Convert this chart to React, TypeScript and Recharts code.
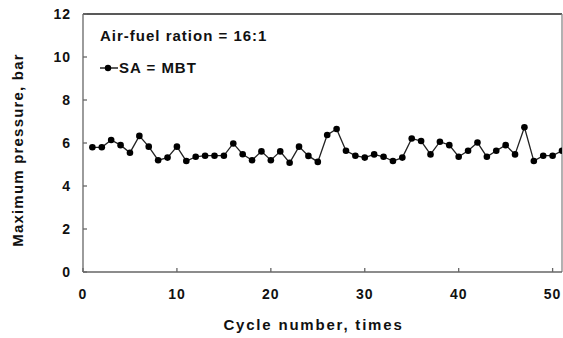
import { LineChart, Line, XAxis, YAxis, ReferenceLine, Legend } from 'recharts'

const cycles = [
  1, 2, 3, 4, 5, 6, 7, 8, 9, 10,
  11, 12, 13, 14, 15, 16, 17, 18, 19, 20,
  21, 22, 23, 24, 25, 26, 27, 28, 29, 30,
  31, 32, 33, 34, 35, 36, 37, 38, 39, 40,
  41, 42, 43, 44, 45, 46, 47, 48, 49, 50, 51
]

const maxPressure = [
  5.8, 5.8, 6.14, 5.9, 5.55, 6.33, 5.83, 5.2, 5.32, 5.83,
  5.16, 5.36, 5.41, 5.41, 5.41, 5.98, 5.48, 5.2, 5.61, 5.2,
  5.61, 5.08, 5.83, 5.4, 5.12, 6.37, 6.65, 5.64, 5.41, 5.32,
  5.47, 5.36, 5.16, 5.32, 6.21, 6.09, 5.47, 6.06, 5.9, 5.36,
  5.64, 6.02, 5.36, 5.64, 5.9, 5.47, 6.73, 5.16, 5.41, 5.41, 5.64
]

const xTicks = [0, 10, 20, 30, 40, 50]
const yTicks = [0, 2, 4, 6, 8, 10, 12]

const data = cycles.map((c, i) => ({ cycle: c, pressure: maxPressure[i] }))

const FONT = '"Liberation Sans", Arial, sans-serif'
const AXIS_COLOR = '#666'

const tickStyle = { fontFamily: FONT, fontSize: 14, fontWeight: 700, fill: '#111', letterSpacing: 1 }

function LegendBox() {
  return (
    <div style={{ fontFamily: FONT, fontWeight: 700, fontSize: 15, color: '#111', letterSpacing: 1 }}>
      <div style={{ lineHeight: '18px' }}>Air-fuel ration = 16:1</div>
      <div style={{ display: 'flex', alignItems: 'center', marginTop: 14, lineHeight: '18px' }}>
        <svg width={18} height={10} style={{ marginRight: 1 }}>
          <line x1={0} y1={5} x2={18} y2={5} stroke="#000" strokeWidth={1.3} />
          <circle cx={8} cy={5} r={3.2} fill="#000" />
        </svg>
        <span>SA = MBT</span>
      </div>
    </div>
  )
}

export default function App() {
  return (
    <div style={{ position: 'absolute', left: 0, top: 0, background: '#fff' }}>
      <LineChart width={563} height={338} data={data} margin={{ top: 14, right: 1, left: 0, bottom: 0 }}>
        <XAxis
          dataKey="cycle"
          type="number"
          domain={[0, 51]}
          ticks={xTicks}
          allowDataOverflow
          height={66}
          tickSize={-4}
          tickMargin={21}
          stroke={AXIS_COLOR}
          strokeWidth={1.3}
          tick={tickStyle}
          label={{
            value: 'Cycle number, times',
            position: 'insideBottom',
            offset: 8,
            dx: -9,
            style: { fontFamily: FONT, fontSize: 15, fontWeight: 700, fill: '#111', letterSpacing: 1.8 },
          }}
        />
        <YAxis
          type="number"
          domain={[0, 12]}
          ticks={yTicks}
          width={83}
          tickSize={-4}
          tickMargin={16}
          stroke={AXIS_COLOR}
          strokeWidth={1.3}
          tick={tickStyle}
          label={{
            content: ({ viewBox }: any) => {
              const cx = viewBox.x + 17
              const cy = viewBox.y + viewBox.height / 2 + 7
              return (
                <text
                  x={cx}
                  y={cy}
                  transform={`rotate(-90, ${cx}, ${cy})`}
                  textAnchor="middle"
                  dominantBaseline="central"
                  style={{ fontFamily: FONT, fontSize: 15, fontWeight: 700, fill: '#111', letterSpacing: 1.2 }}
                >
                  Maximum pressure, bar
                </text>
              )
            },
          }}
        />
        <ReferenceLine y={12} stroke="#222" strokeWidth={1.5} ifOverflow="extendDomain" />
        <ReferenceLine x={51} stroke="#888" strokeWidth={1.3} />
        <Legend
          layout="horizontal"
          verticalAlign="middle"
          align="center"
          wrapperStyle={{ left: 100, top: 27, width: 'auto' }}
          content={() => <LegendBox />}
        />
        <Line
          type="linear"
          dataKey="pressure"
          name="SA = MBT"
          stroke="#222"
          strokeWidth={1.3}
          dot={{ r: 3.3, fill: '#000', stroke: '#000', strokeWidth: 0 }}
          isAnimationActive={false}
        />
      </LineChart>
    </div>
  )
}
